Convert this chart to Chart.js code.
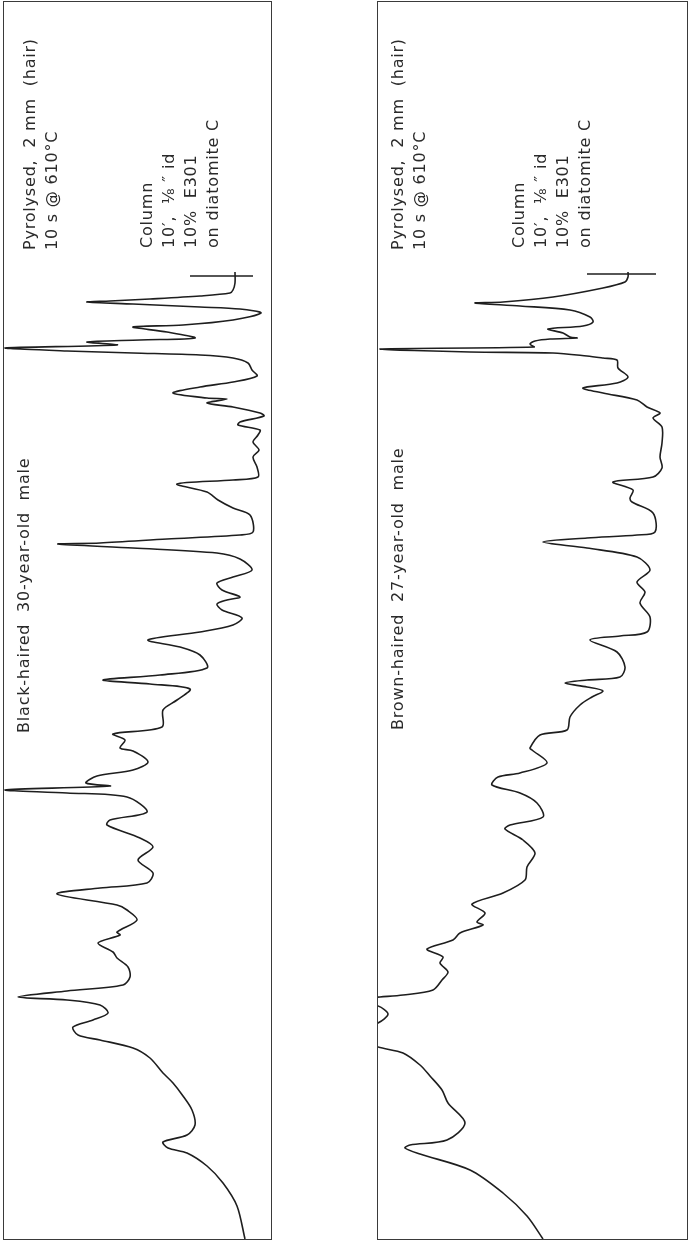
<!DOCTYPE html>
<html>
<head>
<meta charset="utf-8">
<script src="https://cdn.jsdelivr.net/npm/chart.js@4.4.0/dist/chart.umd.min.js"></script>
<style>
  html, body { margin: 0; padding: 0; background: #fff; }
  body { width: 690px; height: 1243px; position: relative; overflow: hidden; }
  canvas { position: absolute; }
  .marco { position: absolute; box-sizing: border-box; border: 1.5px solid #3a3a3a; }
  .txt {
    position: absolute; white-space: pre; color: #2a2a2a;
    font-family: "DejaVu Sans", sans-serif; font-weight: 400;
    font-size: 16px; line-height: 22px; letter-spacing: 0.8px;
    transform-origin: 0 0; transform: rotate(-90deg);
  }
</style>
</head>
<body>
<canvas id="graficoNegro" width="267" height="1237" style="left:4px;top:2px"></canvas>
<div class="marco" style="left:3px;top:1px;width:269px;height:1239px"></div>
<canvas id="graficoCastano" width="309" height="1237" style="left:378px;top:2px"></canvas>
<div class="marco" style="left:377px;top:1px;width:311px;height:1239px"></div>

<div class="txt" style="left:19px;top:250px">Pyrolysed,  2 mm  (hair)
10 s @ 610°C</div>
<div class="txt" style="left:136px;top:248px">Column
10′,  ⅛ ″ id
10%  E301
on diatomite C</div>
<div class="txt" style="left:13px;top:733px">Black-haired  30-year-old  male</div>

<div class="txt" style="left:387px;top:250px">Pyrolysed,  2 mm  (hair)
10 s @ 610°C</div>
<div class="txt" style="left:508px;top:248px">Column
10′,  ⅛ ″ id
10%  E301
on diatomite C</div>
<div class="txt" style="left:387px;top:730px">Brown-haired  27-year-old  male</div>

<script>
// tiempo de retencion (mm de papel desde la inyeccion) y respuesta del detector (mm)
const negroTiempo = [0,33,56,73,86,91,97,104,114,129,143,156,166,181,191,199,204,212,219,226,
  234,239,242,248,254,262,272,281,287,296,304,307,319,329,334,345,351,356,366,379,
  392,401,414,419,427,442,446,449,453,456,463,469,477,488,491,499,505,512,529,539,
  550,555,559,564,571,584,592,599,607,614,621,629,635,639,642,649,656,662,669,680,
  686,691,695,696,700,704,707,724,731,739,747,755,759,762,772,782,789,797,804,809,
  814,817,823,826,832,836,840,841,846,852,857,863,869,876,881,884,886,888,891,894,
  897,899,901,907,912,914,919,926,930,932,935,937,938,940,943,946,949,956,967];
const negroSenal = [26,34,48,64,84,103,108,84,76,79,88,98,108,121,138,171,193,198,178,163,
  171,204,253,204,148,141,143,154,158,173,151,154,134,144,154,214,171,124,118,133,
  118,131,164,161,124,144,204,266,161,185,174,138,123,138,151,146,158,109,108,94,
  81,121,168,111,64,71,91,123,71,38,29,49,54,44,31,49,54,38,19,31,
  54,138,213,171,104,31,18,21,38,53,64,94,38,13,14,18,12,18,13,11,
  33,31,7,11,38,64,44,64,98,71,38,14,19,23,38,71,138,204,266,154,
  184,131,76,104,138,88,38,10,31,71,138,184,161,121,71,41,38,36,36];
const negroMarcaTiempo = [963, 963];
const negroMarcaSenal = [18, 81];

const castanoTiempo = [0,23,46,69,85,91,94,99,116,136,149,163,174,186,192,204,216,225,233,239,
  242,244,249,259,267,276,282,290,299,306,314,317,326,335,346,359,372,386,399,410,
  414,422,436,446,454,462,466,476,489,491,504,509,522,534,542,548,552,556,559,562,
  572,587,599,603,607,622,636,647,657,669,682,691,697,701,704,707,726,737,741,749,
  757,762,771,782,796,812,821,826,832,839,846,851,856,862,871,879,881,883,886,887,
  890,892,895,898,900,901,902,906,910,913,917,922,929,933,936,937,942,951,957,962,967];
const castanoSenal = [144,160,184,217,267,282,277,240,222,239,245,257,267,284,309,340,309,299,309,340,
  307,284,254,245,239,247,244,260,234,227,204,210,202,215,184,162,160,152,164,182,
  177,144,150,167,195,189,167,140,155,157,147,120,117,107,95,84,100,122,100,67,
  62,70,97,67,40,37,47,42,50,37,50,100,144,100,50,32,34,55,57,54,
  74,34,25,27,25,25,34,27,40,50,84,104,70,59,69,70,84,100,134,217,
  307,153,157,152,137,110,117,124,139,104,94,97,117,167,212,184,134,84,62,59,59];
const castanoMarcaTiempo = [965, 965];
const castanoMarcaSenal = [31, 100];

const tiempoMax = 1237;

function pintarPanel(id, tiempo, senal, marcaTiempo, marcaSenal, senalMax) {
    const ctx = document.getElementById(id).getContext('2d');
    new Chart(ctx, {
        type: 'scatter',
        data: {
            datasets: [{
                data: tiempo.map((t, i) => ({ x: senal[i], y: t })),
                showLine: true,
                borderColor: '#1e1e1e',
                borderWidth: 1.6,
                pointRadius: 0,
                tension: 0.3
            }, {
                data: marcaTiempo.map((t, i) => ({ x: marcaSenal[i], y: t })),
                showLine: true,
                borderColor: '#1e1e1e',
                borderWidth: 1.4,
                pointRadius: 0
            }]
        },
        options: {
            responsive: false,
            animation: false,
            events: [],
            layout: { padding: 0 },
            plugins: { legend: { display: false }, tooltip: { enabled: false } },
            scales: {
                x: { type: 'linear', reverse: true, min: 0, max: senalMax, display: false },
                y: { type: 'linear', min: 0, max: tiempoMax, display: false }
            }
        }
    });
}

pintarPanel('graficoNegro', negroTiempo, negroSenal, negroMarcaTiempo, negroMarcaSenal, 267);
pintarPanel('graficoCastano', castanoTiempo, castanoSenal, castanoMarcaTiempo, castanoMarcaSenal, 309);
</script>
</body>
</html>
